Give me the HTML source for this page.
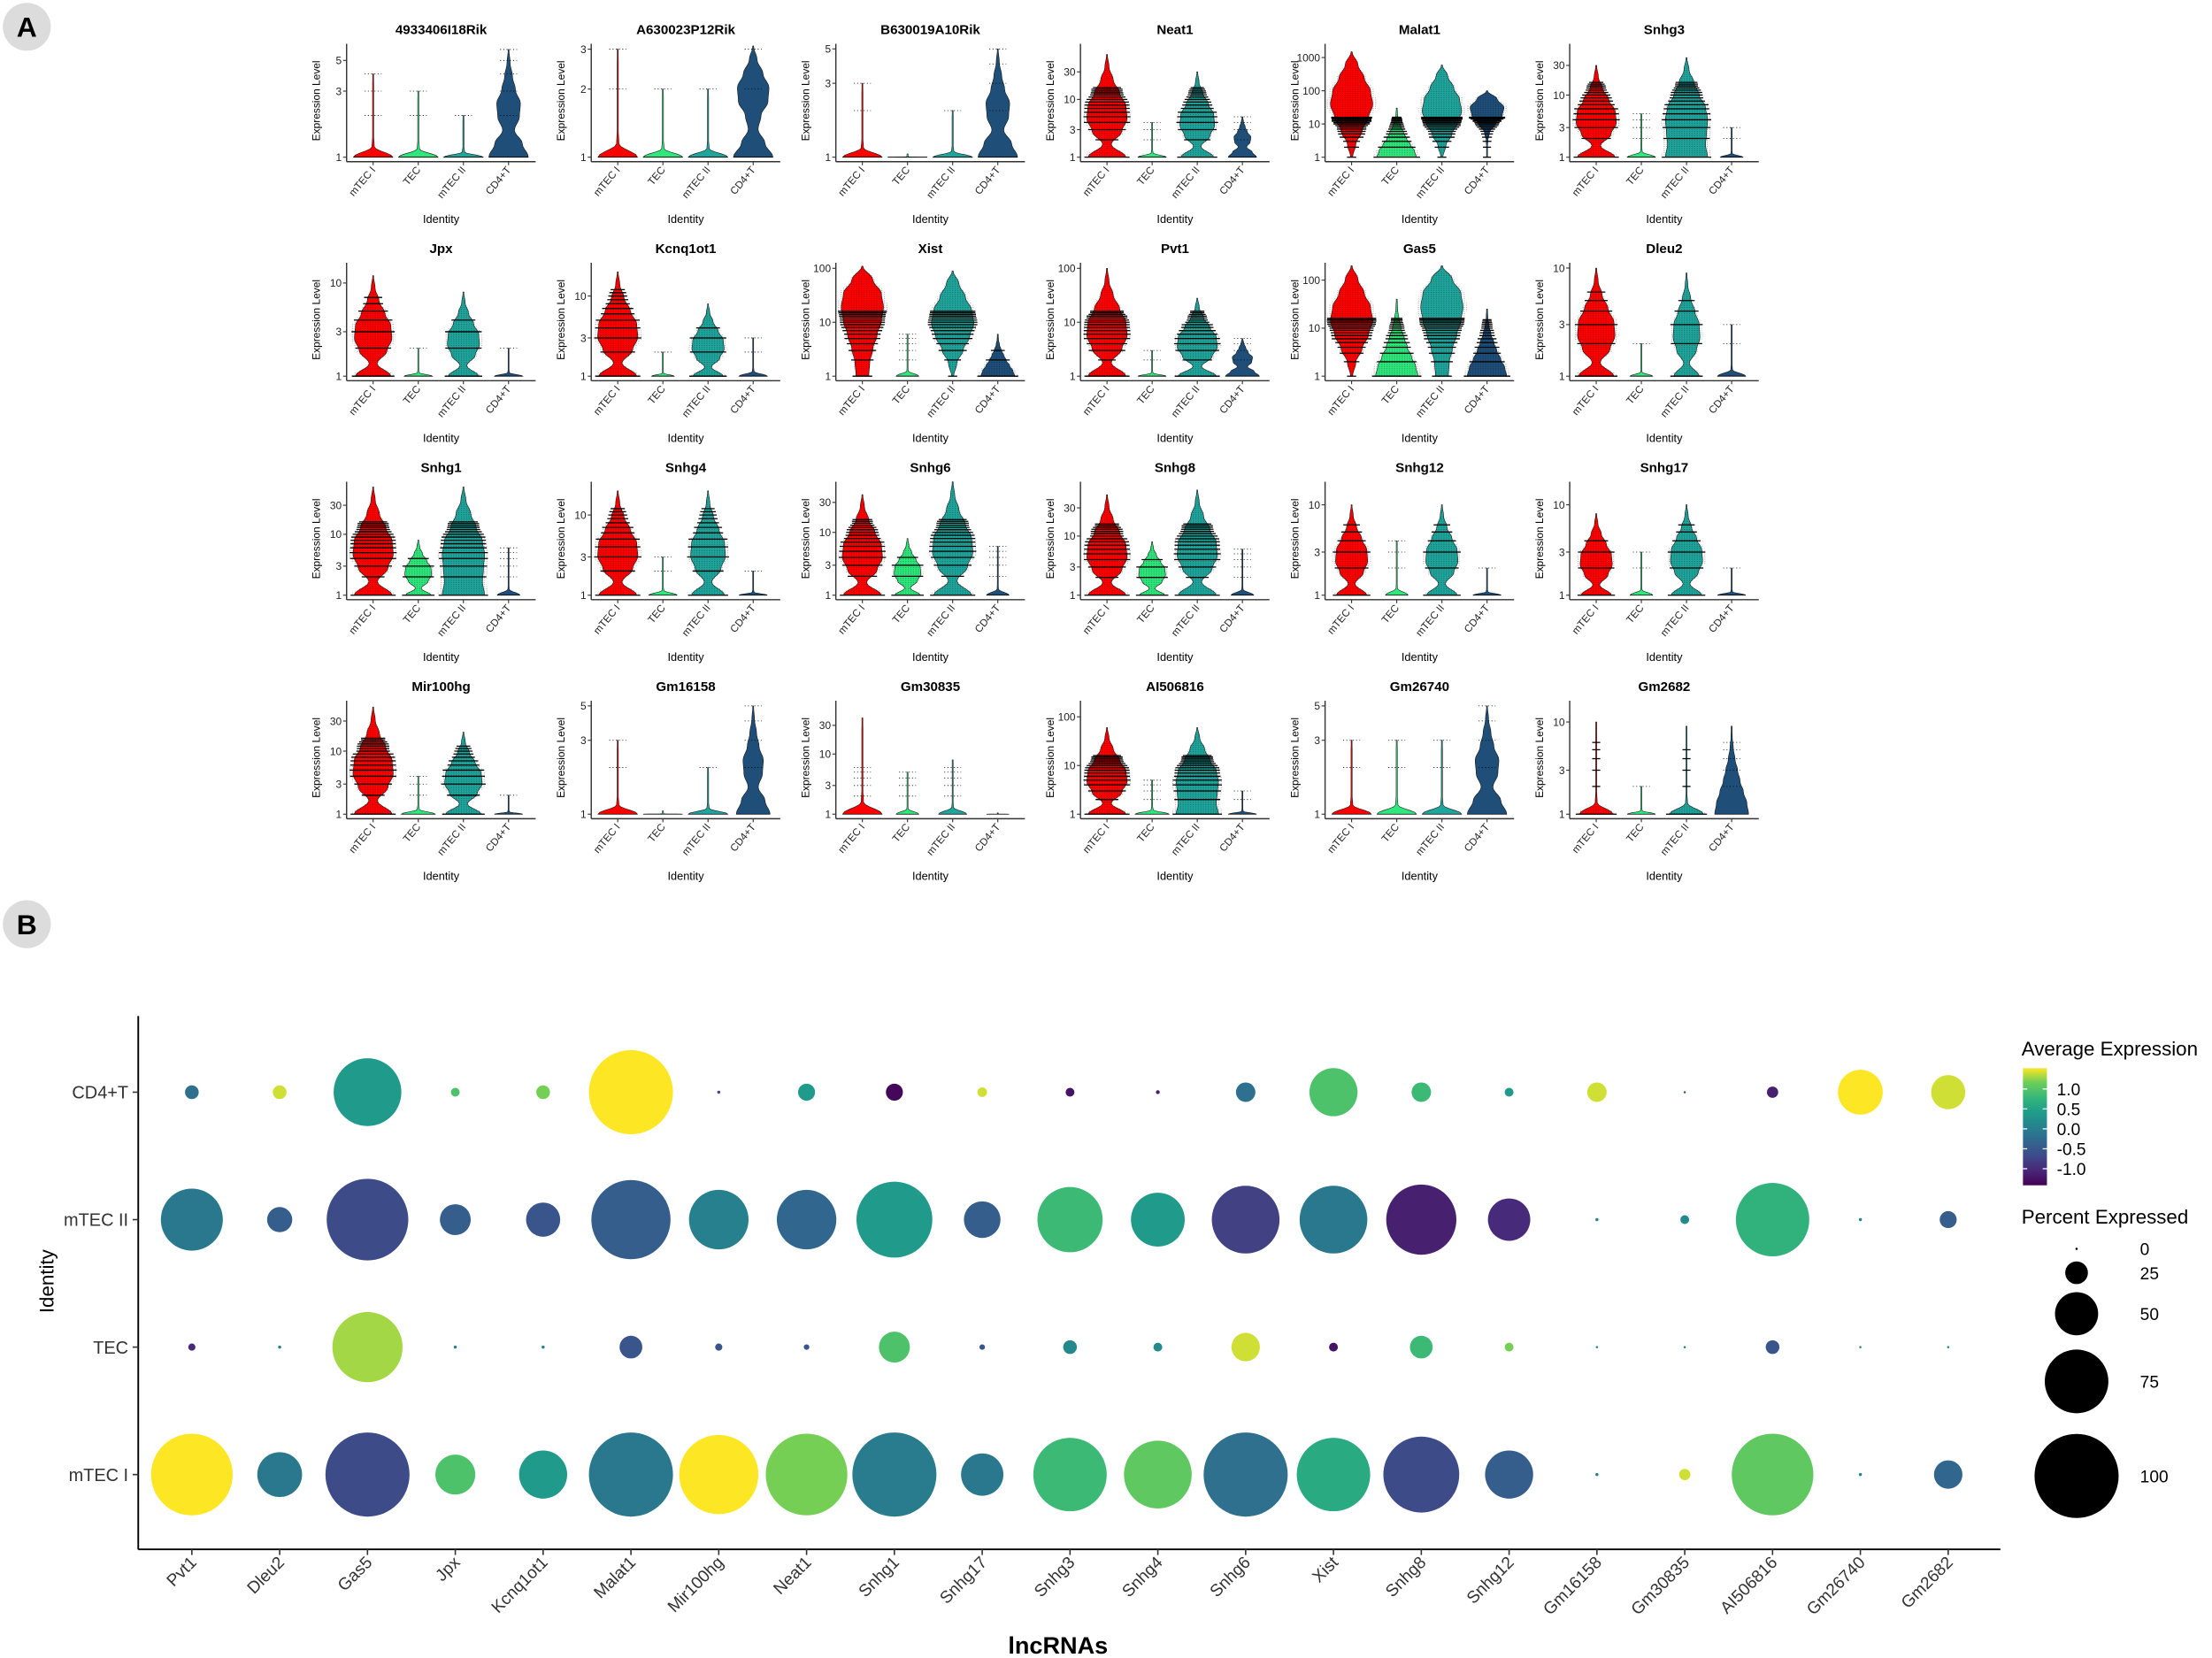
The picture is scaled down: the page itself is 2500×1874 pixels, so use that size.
<!DOCTYPE html>
<html><head><meta charset="utf-8"><style>
html,body{margin:0;padding:0;background:#fff;}
svg{display:block;}
text{font-family:"Liberation Sans",sans-serif;}
</style></head><body>
<svg id="fig" xmlns="http://www.w3.org/2000/svg" width="2500" height="1874" viewBox="0 0 1568 1175" preserveAspectRatio="none">
<defs>
<pattern id="dots" width="1.5" height="1.5" patternUnits="userSpaceOnUse"><rect width="0.6" height="0.6" fill="#000"/></pattern>
<linearGradient id="vgrad" x1="0" y1="1" x2="0" y2="0">
<stop offset="0" stop-color="#440154"/><stop offset="0.13" stop-color="#482878"/><stop offset="0.25" stop-color="#3e4a89"/><stop offset="0.38" stop-color="#31688e"/><stop offset="0.5" stop-color="#26828e"/><stop offset="0.63" stop-color="#1f9e89"/><stop offset="0.75" stop-color="#35b779"/><stop offset="0.88" stop-color="#6ece58"/><stop offset="1" stop-color="#fde725"/>
</linearGradient>
</defs>
<g><circle cx="19" cy="19" r="17" fill="#dcdcdc"/><text x="19" y="26" text-anchor="middle" font-size="20" font-weight="bold">A</text></g>
<g><circle cx="19" cy="655" r="17" fill="#dcdcdc"/><text x="19" y="662" text-anchor="middle" font-size="20" font-weight="bold">B</text></g>
<g id="panelA"></g>
<g id="panelB"></g>
</svg>
<script>
const NS="http://www.w3.org/2000/svg";
// ---------- Panel A data ----------
const genesA=["4933406I18Rik","A630023P12Rik","B630019A10Rik","Neat1","Malat1","Snhg3","Jpx","Kcnq1ot1","Xist","Pvt1","Gas5","Dleu2","Snhg1","Snhg4","Snhg6","Snhg8","Snhg12","Snhg17","Mir100hg","Gm16158","Gm30835","AI506816","Gm26740","Gm2682"];
const groupsA=["mTEC I","TEC","mTEC II","CD4+T"];
const groupColors=["#ff0000","#2ee87c","#1fa59c","#1f4e79"];
const vmaxA=[6.6,3.17,5.4,92,2600,67,16.5,26,127,127,230,11.2,73,26,64,83,18,18,63,5.4,77,214,5.4,17];
const ticksA=[[1,3,5],[1,2,3],[1,3,5],[1,3,10,30],[1,10,100,1000],[1,3,10,30],[1,3,10],[1,3,10],[1,10,100],[1,10,100],[1,10,100],[1,3,10],[1,3,10,30],[1,3,10],[1,3,10,30],[1,3,10,30],[1,3,10],[1,3,10],[1,3,10,30],[1,3,5],[1,3,10,30],[1,10,100],[1,3,5],[1,3,10]];
const violTop=[[4,3,2,6],[3,2,2,3.1],[3,1.05,2,5],[60,4,30,5],[1500,30,600,100],[30,5,40,3],[12,2,8,2],[20,2,8,3],[110,6,90,6],[100,3,28,5],[200,40,200,25],[10,2,9,3],[60,8,60,6],[20,3,20,2],[40,8,64,6],[50,8,60,6],[10,4,10,2],[8,3,10,2],[50,4,20,2],[3,1.05,2,5],[40,5,8,1.05],[60,5,60,3],[3,3,3,5],[10,2,9,9]];
const violWidth=[[14,14,14,14],[14,14,14,14],[14,14,14,14],[15,10,13,10],[15,14,14,12],[15,10,15,8],[14,10,12,10],[15,8,12,10],[15,8,15,12],[15,10,15,12],[15,15,15,14],[14,8,10,10],[15,10,15,8],[15,10,13,10],[15,10,15,8],[15,10,15,8],[12,8,12,10],[12,8,12,10],[15,12,14,10],[14,14,14,12],[14,8,10,8],[15,12,15,10],[14,14,14,14],[12,10,12,12]];
const violShape=[["spike","spike","spike","baseNeck"],["spike","spike","spike","upper"],["spike","spike","spike","baseNeck"],["bulkNeck","spike","bulkNeck","baseNeck"],["mid","base","mid","midSmall"],["bulkNeck","spike","bulk","spike"],["bulkNeck","spike","bulkNeck","spike"],["bulkNeck","spike","bulkNeck","spike"],["topHeavy","spike","mid","base"],["bulkNeck","spike","bulkNeck","baseNeck"],["mid","base","topHeavy","base"],["bulkNeck","spike","bulkNeck","spike"],["bulkNeck","bulkNeck","bulk","spike"],["bulkNeck","spike","bulkNeck","spike"],["bulkNeck","bulkNeck","bulkNeck","spike"],["bulkNeck","bulkNeck","bulkNeck","spike"],["bulkNeck","spike","bulkNeck","spike"],["bulkNeck","spike","bulkNeck","spike"],["bulkNeck","spike","bulkNeck","spike"],["spike","spike","spike","baseNeck"],["spike","spike","spike","spike"],["bulkNeck","spike","bulk","spike"],["spike","spike","spike","baseNeck"],["spike","spike","spike","base"]];
const violDense=[[0,0,0,0],[0,0,0,0],[0,0,0,0],[1,0,1,0],[1,1,1,1],[1,0,1,0],[1,0,1,0],[1,0,1,0],[1,0,1,1],[1,0,1,0],[1,1,1,1],[1,0,1,0],[1,1,1,0],[1,0,1,0],[1,1,1,0],[1,1,1,0],[1,0,1,0],[1,0,1,0],[1,0,1,0],[0,0,0,0],[0,0,0,0],[1,0,1,0],[0,0,0,0],[1,0,1,0]];
const profiles={
 spike:[1,0.06,0.03,0.03,0.03,0.03,0.03,0.03,0.01],
 baseNeck:[1,0.7,0.3,0.55,0.6,0.35,0.2,0.08,0.02],
 upper:[1,0.6,0.25,0.4,0.75,0.8,0.5,0.2,0.02],
 bulkNeck:[0.9,0.2,0.7,0.95,0.9,0.6,0.3,0.1,0.02],
 bulk:[1,0.9,0.95,1,0.9,0.6,0.35,0.12,0.02],
 base:[1,0.9,0.7,0.5,0.35,0.2,0.1,0.04,0.02],
 mid:[0.05,0.2,0.5,0.8,1,0.9,0.6,0.3,0.02],
 topHeavy:[0.3,0.35,0.5,0.7,0.9,1,0.9,0.5,0.02],
 midSmall:[0.02,0.02,0.05,0.15,0.5,0.9,1,0.6,0.02]
};
// ---------- Panel B data ----------
const genesB=["Pvt1","Dleu2","Gas5","Jpx","Kcnq1ot1","Malat1","Mir100hg","Neat1","Snhg1","Snhg17","Snhg3","Snhg4","Snhg6","Xist","Snhg8","Snhg12","Gm16158","Gm30835","AI506816","Gm26740","Gm2682"];
const rowsB=["mTEC I","TEC","mTEC II","CD4+T"];
const pctMTEC1=[97,52,100,46,56,100,94,97,100,49,87,80,100,87,90,56,1,11,97,1,32];
const pctTEC=[6,1,83,1,1,25,6,4,35,4,14,8,32,8,25,8,0,0,14,0,0];
const pctMTEC2=[73,28,97,35,39,94,70,70,90,42,77,63,80,80,83,49,1,8,87,1,18];
const pctCD4=[14,14,80,8,14,100,1,18,18,9,8,2,21,56,21,8,21,0,11,52,39];
const avgMTEC1=[1.3,-0.1,-0.6,0.8,0.3,-0.1,1.3,1.0,-0.05,-0.1,0.7,0.9,-0.2,0.5,-0.6,-0.4,0,1.2,0.9,0,-0.3];
const avgTEC=[-0.9,0,1.1,0,0,-0.5,-0.5,-0.5,0.8,-0.5,0.1,0.1,1.2,-1.1,0.7,1.0,0,0,-0.5,0,0];
const avgMTEC2=[-0.1,-0.4,-0.6,-0.4,-0.5,-0.4,0.0,-0.3,0.3,-0.4,0.7,0.3,-0.7,-0.1,-1.0,-0.9,0,0.1,0.6,0,-0.4];
const avgCD4=[-0.2,1.2,0.3,0.8,1.0,1.3,-0.6,0.3,-1.2,1.2,-1.1,-1.0,-0.2,0.8,0.7,0.3,1.2,-0.5,-1.0,1.3,1.2];
const legendPct=[0,25,50,75,100];
const legendAvgTicks=[1.0,0.5,0.0,-0.5,-1.0];

function mk(tag,attrs,parent,txt){const e=document.createElementNS(NS,tag);for(const k in attrs)e.setAttribute(k,attrs[k]);if(txt!==undefined)e.textContent=txt;parent.appendChild(e);return e;}
const vir=["#440154","#482878","#3e4a89","#31688e","#26828e","#1f9e89","#35b779","#6ece58","#fde725"];
function hex(h){return [parseInt(h.substr(1,2),16),parseInt(h.substr(3,2),16),parseInt(h.substr(5,2),16)];}
function viridis(t){t=Math.max(0,Math.min(1,t));const s=t*(vir.length-1);const i=Math.min(vir.length-2,Math.floor(s));const f=s-i;const a=hex(vir[i]),b=hex(vir[i+1]);return "rgb("+a.map((v,k)=>Math.round(v+(b[k]-v)*f)).join(",")+")";}

// ---------- draw panel A ----------
const A=document.getElementById('panelA');
genesA.forEach((g,gi)=>{
  const c=gi%6,r=Math.floor(gi/6);
  const x0=245.7+c*173.4, base=111.4+r*155.2, top=31+r*155.2, xAxisY=114.6+r*155.2;
  const H=80.4, lnMax=Math.log(vmaxA[gi]);
  const yv=v=>base-Math.log(v)/lnMax*H;
  const P=mk('g',{},A);
  
  
  const t=mk('text',{x:x0+67,y:24+r*155.2,'text-anchor':'middle','font-size':9.5,'font-weight':'bold'},P,g);
  
  const yl=mk('text',{x:0,y:0,transform:`translate(${x0-19},${base-40}) rotate(-90)`,'text-anchor':'middle','font-size':7.5},P,'Expression Level');
  
  const il=mk('text',{x:x0+67,y:158+r*155.2,'text-anchor':'middle','font-size':8},P,'Identity');
  
  ticksA[gi].forEach(tv=>{const y=yv(tv);
    mk('line',{x1:x0-2.5,x2:x0,y1:y,y2:y,stroke:'#333','stroke-width':0.7},P);
    const tt=mk('text',{x:x0-3.5,y:y+2.7,'text-anchor':'end','font-size':7.5,fill:'#222'},P,tv);
    
  });
  groupsA.forEach((gr,k)=>{
    const cx=x0+18.8+32*k, topV=violTop[gi][k], W=violWidth[gi][k], prof=profiles[violShape[gi][k]];
    const yb=yv(1), yt=yv(topV);
    const N=40, pts=[];
    for(let i=0;i<=N;i++){const s=i/N*(prof.length-1);const j=Math.min(prof.length-2,Math.floor(s));const f=s-j;const ff=(1-Math.cos(f*Math.PI))/2;
      const w=Math.max(0.35,W*(prof[j]+(prof[j+1]-prof[j])*ff));pts.push([yb-(yb-yt)*i/N,w]);}
    let d='M'+(cx-pts[0][1])+','+yb;
    pts.forEach(p=>d+=' L'+(cx+p[1]).toFixed(2)+','+p[0].toFixed(2));
    for(let i=pts.length-1;i>=0;i--)d+=' L'+(cx-pts[i][1]).toFixed(2)+','+pts[i][0].toFixed(2);
    d+='Z';
    const V=mk('path',{d:d,fill:groupColors[k],stroke:'#111','stroke-width':0.35},P);
    
    
    const wAt=v=>{const tt=Math.log(v)/Math.log(topV||1.0001);if(!(tt>=0&&tt<=1))return 2;return pts[Math.round(tt*N)][1];};
    if(violDense[gi][k]){
      mk('path',{d:d,fill:'url(#dots)',transform:`translate(${cx},0) scale(1.2,1) translate(${-cx},0)`,opacity:0.35},P);
      const maxI=Math.min(Math.floor(topV*0.6),16);
      for(let v=1;v<=maxI;v++){const y=yv(v);const w=wAt(v)+2.5;
        mk('line',{x1:cx-w,x2:cx+w,y1:y,y2:y,stroke:'#000','stroke-width':0.8},P);}
    } else {
      const maxI=Math.min(Math.floor(topV),6);
      for(let v=1;v<=maxI;v++){const y=yv(v);
        mk('line',{x1:cx-(v===1?W:6),x2:cx+(v===1?W:6),y1:y,y2:y,stroke:'#000','stroke-width':0.5,'stroke-dasharray':v===1?'none':'0.7 1.6'},P);}
    }
    mk('line',{x1:cx,x2:cx,y1:xAxisY,y2:xAxisY+2.5,stroke:'#333','stroke-width':0.7},P);
    const xl=mk('text',{x:0,y:0,transform:`translate(${cx+2},${xAxisY+6}) rotate(-50)`,'text-anchor':'end','font-size':7.3,fill:'#222'},P,gr);
    
  });
  mk('line',{x1:x0,x2:x0,y1:top,y2:xAxisY,stroke:'#333','stroke-width':0.9},P);
  mk('line',{x1:x0,x2:x0+134,y1:xAxisY,y2:xAxisY,stroke:'#333','stroke-width':0.9},P);
});

// ---------- draw panel B ----------
const B=document.getElementById('panelB');
const bx=i=>136+i*62.25;
const byRow=j=>1045-j*90.33;
const rad=p=>0.8+0.29*p;
const col=v=>viridis((v+1.25)/2.55);
const pctRows=[pctMTEC1,pctTEC,pctMTEC2,pctCD4];
const avgRows=[avgMTEC1,avgTEC,avgMTEC2,avgCD4];
mk('line',{x1:98,x2:98,y1:720,y2:1098,stroke:'#000','stroke-width':1.2},B);
mk('line',{x1:98,x2:1418,y1:1098,y2:1098,stroke:'#000','stroke-width':1.2},B);
rowsB.forEach((rn,j)=>{const y=byRow(j);
  mk('line',{x1:94,x2:98,y1:y,y2:y,stroke:'#333','stroke-width':1},B);
  const t=mk('text',{x:91,y:y+4.5,'text-anchor':'end','font-size':12.5,fill:'#333'},B,rn);
  
});
genesB.forEach((g,i)=>{const x=bx(i);
  mk('line',{x1:x,x2:x,y1:1098,y2:1102,stroke:'#333','stroke-width':1},B);
  const t=mk('text',{x:0,y:0,transform:`translate(${x+4},${1108}) rotate(-45)`,'text-anchor':'end','font-size':12,fill:'#333'},B,g);
  
  rowsB.forEach((rn,j)=>{
    const c=mk('circle',{cx:x,cy:byRow(j),r:rad(pctRows[j][i]),fill:col(avgRows[j][i])},B);
    
    
  });
});
const xt=mk('text',{x:750,y:1172,'text-anchor':'middle','font-size':17,'font-weight':'bold'},B,'lncRNAs');

const ytt=mk('text',{x:0,y:0,transform:'translate(38,908) rotate(-90)','text-anchor':'middle','font-size':14},B,'Identity');

// legends
const L=mk('g',{},B);

mk('text',{x:1433,y:748,'font-size':14},L,'Average Expression');
const cb=mk('rect',{x:1434,y:757,width:17,height:83,fill:'url(#vgrad)'},L);

legendAvgTicks.forEach(v=>{const y=800-v*28.25;
  mk('line',{x1:1434,x2:1437,y1:y,y2:y,stroke:'#fff','stroke-width':0.8},L);
  mk('line',{x1:1448,x2:1451,y1:y,y2:y,stroke:'#fff','stroke-width':0.8},L);
  mk('text',{x:1458,y:y+4.5,'font-size':12},L,v.toFixed(1));
});
mk('text',{x:1433,y:867,'font-size':14},L,'Percent Expressed');
const legY=[885,902,931,979,1046];
legendPct.forEach((p,k)=>{
  const c=mk('circle',{cx:1472,cy:legY[k],r:rad(p),fill:'#000'},L);
  
  mk('text',{x:1517,y:legY[k]+4.5,'font-size':12},L,p);
});
</script>
</body></html>
